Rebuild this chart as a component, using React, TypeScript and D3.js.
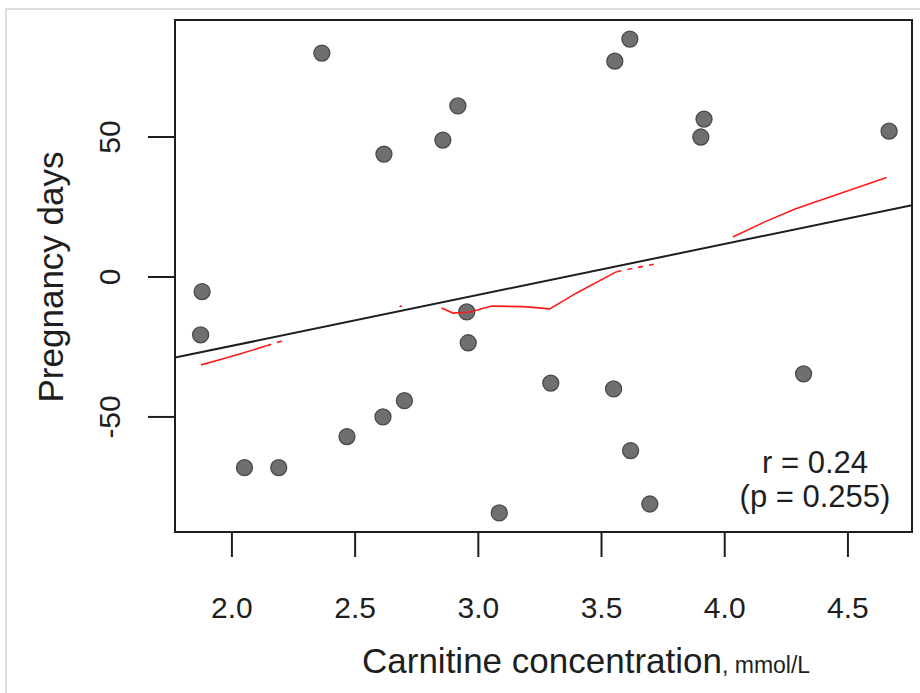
import React from "react";
import * as d3 from "d3";

const carnitine = [1.879, 1.873, 2.051, 2.19, 2.365, 2.467, 2.613, 2.617, 2.7, 2.856, 2.917, 2.953, 2.959, 3.085, 3.294, 3.549, 3.554, 3.615, 3.618, 3.696, 3.903, 3.916, 4.32, 4.667];
const pregnancyDays = [-5.2, -20.7, -68.1, -68.1, 80.0, -57.0, -50.0, 43.9, -44.2, 48.9, 61.1, -12.5, -23.5, -84.3, -37.9, -40.0, 77.1, 85.0, -62.0, -81.1, 50.0, 56.4, -34.6, 52.1];

const xTicks = [2.0, 2.5, 3.0, 3.5, 4.0, 4.5];
const yTicks = [-50, 0, 50];
const xDomain = [1.769, 4.76];
const yDomain = [-91.1, 91.8];

const fitIntercept = -61.0;
const fitSlope = 18.2;

// smoother (red) pieces: solid and dashed
const smoothSolid: [number, number][][] = [
  [[1.874, -31.4], [1.95, -29.6], [2.032, -27.5], [2.14, -24.6]],
  [[2.68, -10.6], [2.69, -10.3]],
  [[2.851, -11.1], [2.897, -12.9], [2.966, -12.5], [3.054, -10.4], [3.181, -10.6], [3.29, -11.4], [3.399, -5.7], [3.561, 1.9]],
  [[4.033, 14.3], [4.16, 19.6], [4.285, 24.3], [4.657, 35.5]],
];
const smoothDashed: [number, number][][] = [
  [[2.14, -24.6], [2.21, -22.7]],
  [[3.561, 1.9], [3.737, 5.0]],
];

const rText = ["r = 0.24", "(p = 0.255)"];
const xTitle = "Carnitine concentration";
const xUnit = ", mmol/L";
const yTitle = "Pregnancy days";

export default function App() {
  const left = 175, right = 912, top = 20, bottom = 532;
  const x = d3.scaleLinear().domain(xDomain).range([left, right]);
  const y = d3.scaleLinear().domain(yDomain).range([bottom, top]);
  const line = d3.line<[number, number]>().x((d) => x(d[0])).y((d) => y(d[1]));
  const font = "'Liberation Sans', Arial, sans-serif";
  const ink = "#1e1e1e";
  const fitPts: [number, number][] = [
    [xDomain[0], fitIntercept + fitSlope * xDomain[0]],
    [xDomain[1], fitIntercept + fitSlope * xDomain[1]],
  ];
  return (
    <svg width={920} height={693} style={{ position: "absolute", left: 0, top: 0, background: "#fff" }} fontFamily={font}>
      <rect x={0} y={0} width={920} height={693} fill="#fff" />
      <rect x={6} y={9} width={1000} height={1000} fill="none" stroke="#d4d4d4" strokeWidth={1.5} />
      <defs>
        <clipPath id="plotclip">
          <rect x={left} y={top} width={right - left} height={bottom - top} />
        </clipPath>
      </defs>
      {carnitine.map((c, i) => (
        <circle key={i} cx={x(c)} cy={y(pregnancyDays[i])} r={8} fill="#6f6f6f" stroke="#4a4a4a" strokeWidth={1.3} />
      ))}
      <g clipPath="url(#plotclip)">
        <path d={line(fitPts) || ""} stroke={ink} strokeWidth={2} fill="none" />
        {smoothSolid.map((s, i) => (
          <path key={"s" + i} d={line(s) || ""} stroke="#ff1a1a" strokeWidth={1.6} fill="none" />
        ))}
        {smoothDashed.map((s, i) => (
          <path key={"d" + i} d={line(s) || ""} stroke="#ff1a1a" strokeWidth={1.6} fill="none" strokeDasharray="5,6" />
        ))}
      </g>
      <rect x={left} y={top} width={right - left} height={bottom - top} fill="none" stroke={ink} strokeWidth={2} />
      {xTicks.map((t) => (
        <g key={t}>
          <line x1={x(t)} x2={x(t)} y1={bottom} y2={bottom + 25} stroke={ink} strokeWidth={2} />
          <text x={x(t)} y={618} textAnchor="middle" fontSize={30} fill={ink}>
            {d3.format(".1f")(t)}
          </text>
        </g>
      ))}
      {yTicks.map((t) => (
        <g key={t}>
          <line x1={left - 27} x2={left} y1={y(t)} y2={y(t)} stroke={ink} strokeWidth={2} />
          <text transform={`translate(120,${y(t)}) rotate(-90)`} textAnchor="middle" fontSize={30} fill={ink}>
            {t}
          </text>
        </g>
      ))}
      <text x={362} y={673} fontSize={35} fill={ink}>
        {xTitle}
        <tspan fontSize={23}>{xUnit}</tspan>
      </text>
      <text transform={`translate(63,277) rotate(-90)`} textAnchor="middle" fontSize={35} fill={ink}>
        {yTitle}
      </text>
      {rText.map((s, i) => (
        <text key={i} x={815} y={473 + i * 34} textAnchor="middle" fontSize={31} fill={ink}>
          {s}
        </text>
      ))}
    </svg>
  );
}
